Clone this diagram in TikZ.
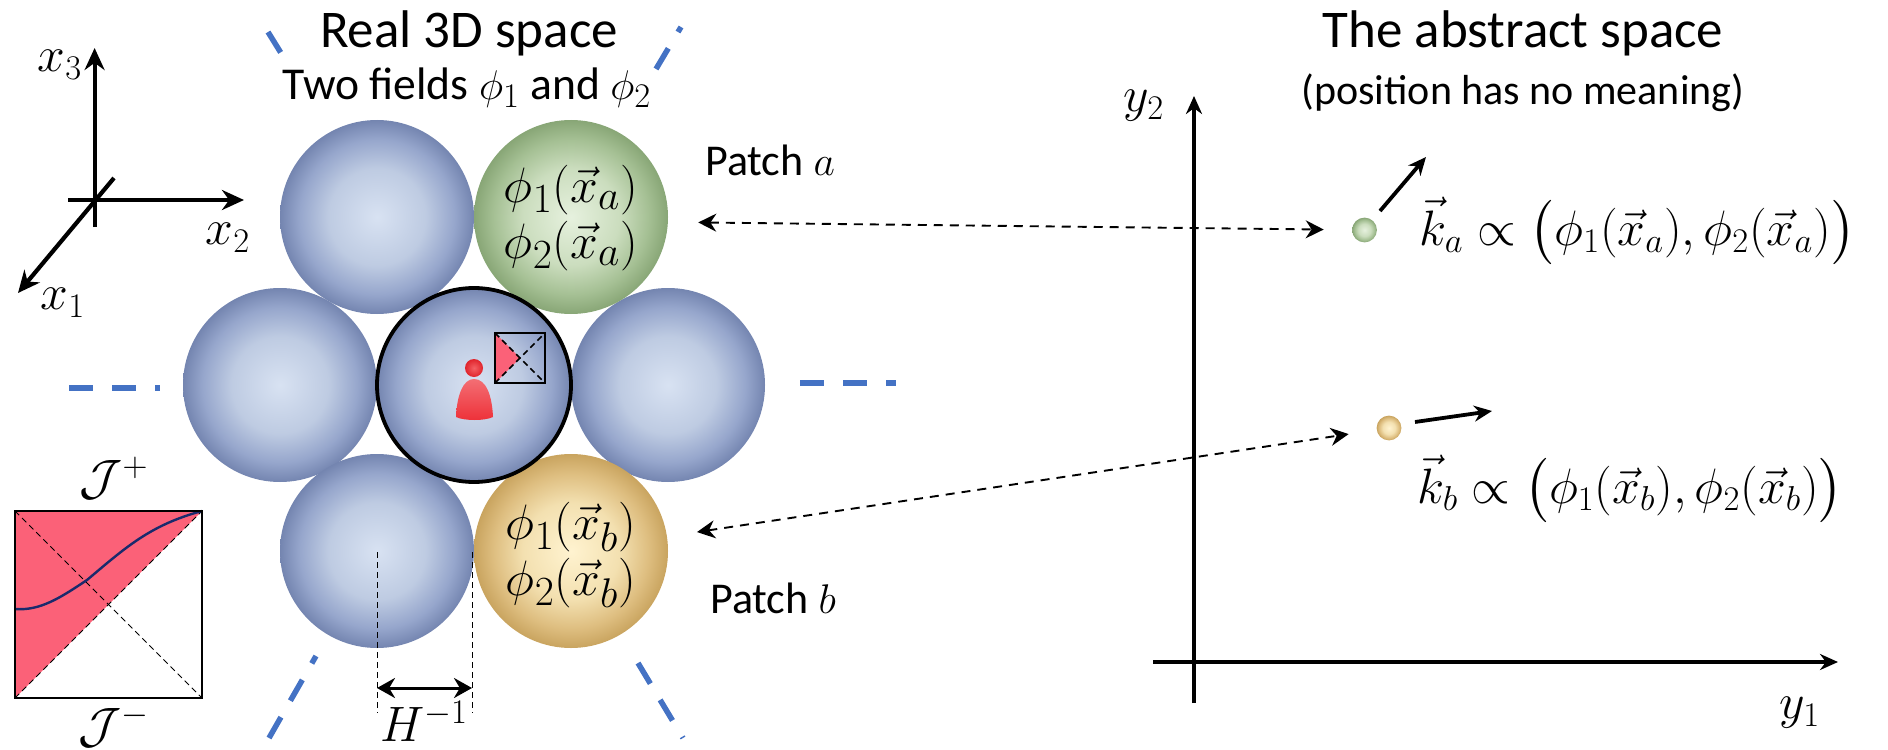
\documentclass[tikz,border=0pt]{standalone}
\usepackage{amsmath,amssymb}
\usepackage{fontspec}
\setmainfont{Carlito}
\usetikzlibrary{arrows.meta,calc,positioning}
\definecolor{dashblue}{HTML}{4472C4}
\definecolor{penrose}{HTML}{FB6178}
\definecolor{curvec}{HTML}{1A2A6C}
\definecolor{personc}{HTML}{EE3038}
\definecolor{blueA}{HTML}{D8E2F2}
\definecolor{blueB}{HTML}{BECBE2}
\definecolor{blueC}{HTML}{96A6CC}
\definecolor{blueD}{HTML}{7485B0}
\definecolor{greenA}{HTML}{E6F1DE}
\definecolor{greenB}{HTML}{CBDDBE}
\definecolor{greenC}{HTML}{A5C094}
\definecolor{greenD}{HTML}{88A676}
\definecolor{goldA}{HTML}{FFF3D0}
\definecolor{goldB}{HTML}{F3E0B0}
\definecolor{goldC}{HTML}{DEBE80}
\definecolor{goldD}{HTML}{C9A45F}
\definecolor{redA}{HTML}{F46064}
\definecolor{redD}{HTML}{E0242C}
\pgfdeclareradialshading{sphereblue}{\pgfpoint{0bp}{0bp}}{color(0bp)=(blueA); color(12.5bp)=(blueB); color(20bp)=(blueC); color(25bp)=(blueD); color(50bp)=(blueD)}
\pgfdeclareradialshading{spheregreen}{\pgfpoint{0bp}{0bp}}{color(0bp)=(greenA); color(12.5bp)=(greenB); color(20bp)=(greenC); color(25bp)=(greenD); color(50bp)=(greenD)}
\pgfdeclareradialshading{spheregold}{\pgfpoint{0bp}{0bp}}{color(0bp)=(goldA); color(12.5bp)=(goldB); color(20bp)=(goldC); color(25bp)=(goldD); color(50bp)=(goldD)}
\pgfdeclareradialshading{spherered}{\pgfpoint{0bp}{0bp}}{color(0bp)=(redA); color(25bp)=(redD); color(50bp)=(redD)}
\tikzset{
  sphere/.style={circle,minimum size=97pt,inner sep=0pt,shading=#1},
  dot/.style={circle,minimum size=12.4pt,inner sep=0pt,shading=#1},
  ghost/.style={dashblue,line width=2.75pt,dash pattern=on 12pt off 9.5pt},
  axis/.style={line width=2.1pt,-{Stealth[length=11pt,width=10pt]}},
  link/.style={line width=0.95pt,dash pattern=on 4.5pt off 3.5pt,{Stealth[length=9pt,width=9pt]}-{Stealth[length=9pt,width=9pt]}},
  guide/.style={line width=0.5pt,dash pattern=on 3pt off 2pt},
  thinaxis/.style={line width=1.9pt,-{Stealth[length=9pt,width=8pt]}},
  title/.style={font=\fontsize{26.5}{30}\selectfont},
  subtitle/.style={font=\fontsize{22.8}{26}\selectfont},
  patchlabel/.style={font=\fontsize{22}{26}\selectfont},
  mathbig/.style={font=\fontsize{30}{35}\selectfont,inner sep=0pt},
  mathmid/.style={font=\fontsize{26}{30}\selectfont,inner sep=0pt},
}
\newcommand{\fieldpair}[2]{$\phi_{#1}(\vec{x}_{#2})$}
\begin{document}
\begin{tikzpicture}[x=0.5pt,y=-0.5pt]
  \useasboundingbox (0,0) rectangle (1888,749);
  % spheres
  \foreach \name/\px/\py in {tl/377/217,ml/280/385,mr/668/385,bl/377/551} {
    \node[sphere=sphereblue] (\name) at (\px,\py) {};
  }
  \node[sphere=spheregreen] (pa) at (571,217) {};
  \node[sphere=spheregold] (pb) at (571,551) {};
  \node[sphere=sphereblue,draw=black,line width=1.9pt] (mc) at (474,385) {};
  \node[mathbig] (pa1) at (571,190) {\fieldpair{1}{a}};
  \node[mathbig] (pa2) at (571,246) {\fieldpair{2}{a}};
  \node[mathbig] (pb1) at (571,527) {\fieldpair{1}{b}};
  \node[mathbig] (pb2) at (571,583) {\fieldpair{2}{b}};
  % observer
  \node[circle,minimum size=9pt,inner sep=0pt,shading=spherered] (head) at (474,368) {};
  \shade[top color=personc!70!white,bottom color=personc] (456,417) .. controls (457,395) and (463,379) .. (474,379) .. controls (486,379) and (492,395) .. (493,417) .. controls (485,421) and (464,421) .. (456,417) -- cycle;
  \fill[penrose] (495,333) -- (520,358) -- (495,383) -- cycle;
  \draw[guide,line width=0.8pt] (495,333) -- (545,383);
  \draw[guide,line width=0.8pt] (495,383) -- (545,333);
  \node[draw=black,line width=1pt,minimum size=25pt,inner sep=0pt] (mini) at (520,358) {};
  % continuation dashes
  \draw[ghost] (69,388) -- (160,388);
  \draw[ghost] (800,383) -- (896,383);
  \draw[ghost] (268,32) -- (281,53);
  \draw[ghost] (656,69) -- (681,27);
  \draw[ghost] (269,738) -- (316,656);
  \draw[ghost] (638,663) -- (683,738);
  % titles
  \node[title] (realt) at (469,33) {Real 3D space};
  \node[subtitle] (reals) at (467,88) {Two fields $\phi_1$ and $\phi_2$};
  \node[title] (abst) at (1523,33) {The abstract space};
  \node[subtitle,font=\fontsize{21}{25}\selectfont] (abss) at (1523,93) {(position has no meaning)};
  \node[patchlabel] (patcha) at (770,160) {Patch $a$};
  \node[patchlabel] (patchb) at (773,598) {Patch $b$};
  % real axes
  \coordinate (ox) at (94.6,200);
  \coordinate (x3tip) at (94.6,48);
  \coordinate (x3end) at (94.6,227);
  \coordinate (x2tip) at (244,200);
  \coordinate (x2end) at (68,200);
  \coordinate (x1tip) at (18,293);
  \coordinate (x1end) at (114,178);
  \draw[axis] (x3end) -- (x3tip);
  \draw[axis] (x2end) -- (x2tip);
  \draw[axis] (x1end) -- (x1tip);
  \node[mathmid] (x3lab) at (60,65) {$x_3$};
  \node[mathmid] (x2lab) at (228,238) {$x_2$};
  \node[mathmid] (x1lab) at (63,303) {$x_1$};
  % conformal diagram
  \fill[penrose] (15,511) -- (202,511) -- (15,698) -- cycle;
  \draw[guide] (15,511) -- (202,698);
  \draw[guide] (15,698) -- (202,511);
  \draw[curvec,line width=1.2pt] (15,609) .. controls (40,611) and (60,598) .. (87,580) .. controls (125,548) and (150,525) .. (202,511);
  \node[draw=black,line width=1.1pt,minimum width=93.5pt,minimum height=93.5pt,inner sep=0pt] (diagram) at (108.5,604.5) {};
  \node[mathmid,font=\fontsize{23}{27}\selectfont] (jplus) at (114,478) {$\mathcal{J}^+$};
  \node[mathmid,font=\fontsize{23}{27}\selectfont] (jminus) at (114,726) {$\mathcal{J}^-$};
  % horizon scale
  \coordinate (ha) at (377,552);
  \coordinate (hb) at (472,552);
  \coordinate (hc) at (377,713);
  \coordinate (hd) at (472,713);
  \coordinate (he) at (377,688);
  \coordinate (hf) at (472,688);
  \draw[guide] (ha) -- (hc);
  \draw[guide] (hb) -- (hd);
  \draw[line width=1.5pt,{Stealth[length=9pt,width=10pt]}-{Stealth[length=9pt,width=10pt]}] (he) -- (hf);
  \node[mathmid,font=\fontsize{25}{29}\selectfont] (hinv) at (424,721) {$H^{-1}$};
  % abstract axes
  \coordinate (y2tip) at (1194,96);
  \coordinate (y2end) at (1194,703);
  \coordinate (y1tip) at (1838,662);
  \coordinate (y1end) at (1153,662);
  \draw[thinaxis] (y2end) -- (y2tip);
  \draw[thinaxis] (y1end) -- (y1tip);
  \node[mathmid] (y2lab) at (1144,106) {$y_2$};
  \node[mathmid] (y1lab) at (1800,713) {$y_1$};
  % points in the abstract space
  \node[dot=spheregreen] (pta) at (1364.5,230) {};
  \node[dot=spheregold] (ptb) at (1389,428) {};
  \coordinate (kaend) at (1380,211);
  \coordinate (katip) at (1426,157);
  \coordinate (kbend) at (1415,422);
  \coordinate (kbtip) at (1492,411);
  \draw[thinaxis] (kaend) -- (katip);
  \draw[thinaxis] (kbend) -- (kbtip);
  \draw[link,shorten <=15pt,shorten >=14pt] (pa.-3) -- (pta);
  \draw[link,shorten <=15pt,shorten >=14pt] (pb) -- (ptb);
  \node[mathbig,font=\fontsize{26.8}{31}\selectfont,anchor=west] (kalab) at (1419,231) {$\vec{k}_a \propto \bigl(\phi_1(\vec{x}_a),\phi_2(\vec{x}_a)\bigr)$};
  \node[mathbig,font=\fontsize{26.8}{31}\selectfont,anchor=west] (kblab) at (1417,489) {$\vec{k}_b \propto \bigl(\phi_1(\vec{x}_b),\phi_2(\vec{x}_b)\bigr)$};
\end{tikzpicture}
\end{document}
